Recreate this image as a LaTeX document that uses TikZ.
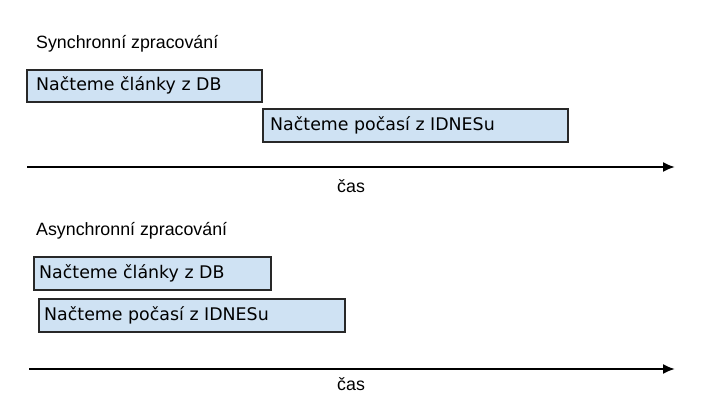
\documentclass[tikz,border=0pt]{standalone}
\usepackage{fontspec}
\setmainfont{Liberation Sans}
\newfontfamily\boxfont{DejaVu Sans}
\usetikzlibrary{positioning,arrows.meta}

\definecolor{barfill}{RGB}{207,226,243}
\definecolor{barline}{RGB}{40,40,40}

\tikzset{
  bar/.style={draw=barline, fill=barfill, line width=1.6pt, anchor=north west,
    minimum height=32pt, inner sep=0pt},
  bartext/.style={anchor=west, inner sep=0pt, font=\boxfont\fontsize{17.4}{20}\selectfont},
  title/.style={anchor=west, inner sep=0pt, font=\fontsize{17.8}{20}\selectfont},
  timeline/.style={line width=2pt, -{Latex[length=12pt,width=10pt]}}
}

\begin{document}
\begin{tikzpicture}[x=1pt,y=-1pt]
  \useasboundingbox (0,0) rectangle (717,410);

  % synchronni
  \node[title] (synctitle) at (36,44) {Synchronní zpracování};
  \node[bar, minimum width=235pt] (syncdb) at (26,69) {};
  \node[bartext, right=10pt of syncdb.west] (syncdbtext) {Načteme články z DB};
  \node[bar, minimum width=305pt, minimum height=33pt] (syncweb) at (262,108) {};
  \node[bartext, right=8pt of syncweb.west] (syncwebtext) {Načteme počasí z IDNESu};

  \coordinate (syncstart) at (27,167);
  \coordinate (syncend) at (675,167);
  \draw[timeline] (syncstart) -- (syncend);
  \node[title] (synctime) at (337,186) {čas};

  % asynchronni
  \node[title] (asynctitle) at (36,231) {Asynchronní zpracování};
  \node[bar, minimum width=237pt, minimum height=33pt] (asyncdb) at (33,256) {};
  \node[bartext, right=6pt of asyncdb.west] (asyncdbtext) {Načteme články z DB};
  \node[bar, minimum width=306pt, minimum height=33pt] (asyncweb) at (38,298) {};
  \node[bartext, right=6pt of asyncweb.west] (asyncwebtext) {Načteme počasí z IDNESu};

  \coordinate (asyncstart) at (29,369);
  \coordinate (asyncend) at (675,369);
  \draw[timeline] (asyncstart) -- (asyncend);
  \node[title] (asynctime) at (337,384) {čas};

\end{tikzpicture}
\end{document}
